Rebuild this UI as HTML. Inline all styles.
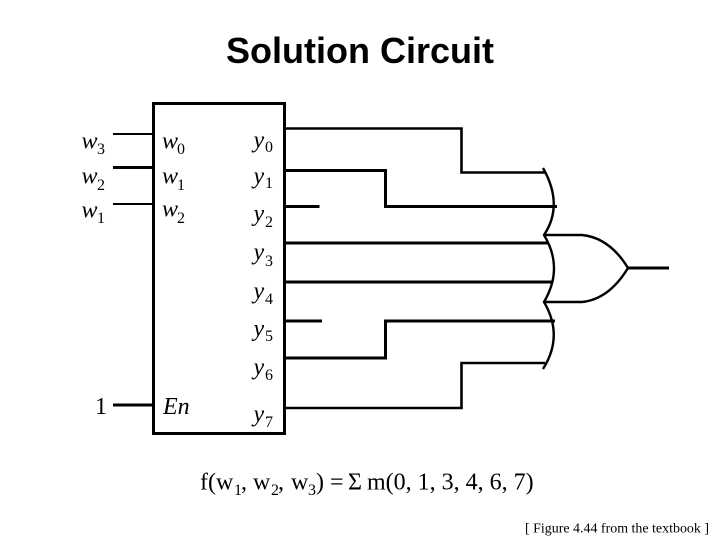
<!DOCTYPE html>
<html><head><meta charset="utf-8">
<style>
html,body{margin:0;padding:0;background:#fff}
svg{display:block}
.s{font-family:"Liberation Serif",serif;fill:#000}
.i{font-style:italic;font-size:24px}
.n{font-size:16px}
.f{font-size:24px}
</style></head>
<body>
<svg width="720" height="540" viewBox="0 0 720 540" xmlns="http://www.w3.org/2000/svg">
<text x="226" y="63" font-family="'Liberation Sans',sans-serif" font-weight="bold" font-size="36" textLength="268" lengthAdjust="spacingAndGlyphs">Solution Circuit</text>

<g fill="none" stroke="#000" stroke-width="3">
<rect x="153.5" y="103.5" width="131" height="330"/>
<path d="M113 134H153" stroke-width="2"/>
<path d="M113 167.5H153"/>
<path d="M113 204H153" stroke-width="2"/>
<path d="M113 405H153"/>
<path d="M284 128.5H461.5V172.5H545" stroke-width="2.6"/>
<path d="M284 170.5H385.5V206.5H557"/>
<path d="M284 206.5H319.5"/>
<path d="M284 243H549"/>
<path d="M284 282H552"/>
<path d="M284 321H322"/>
<path d="M284 358H385.5V321H555"/>
<path d="M284 408H461.5V363H545" stroke-width="2.6"/>
<path d="M543 168Q564 205 544 235Q564 268 544 302Q564 336 543 369" stroke-width="2.4"/>
<path d="M544 235H582C602 237 617 250 628 268C617 286 602 300 582 302H544" stroke-width="2.4"/>
<path d="M628 268H669"/>
</g>

<g class="s">
<text class="i" x="81.5" y="148.5">w</text><text class="n" x="97" y="154">3</text>
<text class="i" x="81.5" y="183.5">w</text><text class="n" x="97" y="190">2</text>
<text class="i" x="81.5" y="217.5">w</text><text class="n" x="97" y="223">1</text>
<text class="i" x="162" y="148.5">w</text><text class="n" x="177" y="154">0</text>
<text class="i" x="162" y="183.5">w</text><text class="n" x="177" y="190">1</text>
<text class="i" x="162" y="216.5">w</text><text class="n" x="177" y="223">2</text>
<text class="i" x="253.5" y="147.5">y</text><text class="n" x="265" y="152">0</text>
<text class="i" x="253.5" y="183.5">y</text><text class="n" x="265" y="188">1</text>
<text class="i" x="253.5" y="221">y</text><text class="n" x="265" y="227">2</text>
<text class="i" x="253.5" y="259.5">y</text><text class="n" x="265" y="266">3</text>
<text class="i" x="253.5" y="298.5">y</text><text class="n" x="265" y="304">4</text>
<text class="i" x="253.5" y="336">y</text><text class="n" x="265" y="341">5</text>
<text class="i" x="253.5" y="374.5">y</text><text class="n" x="265" y="380">6</text>
<text class="i" x="253.5" y="421.5">y</text><text class="n" x="265" y="427">7</text>
<text x="95" y="414" font-size="24">1</text>
<text class="i" x="163" y="414">En</text>

<text class="f" x="200" y="489.5">f(w</text>
<text class="n" x="234" y="495">1</text>
<text class="f" x="241" y="489.5">,</text>
<text class="f" x="253" y="489.5">w</text>
<text class="n" x="271" y="495">2</text>
<text class="f" x="278" y="489.5">,</text>
<text class="f" x="291" y="489.5">w</text>
<text class="n" x="308" y="495">3</text>
<text class="f" x="316" y="489.5">)</text>
<text class="f" x="330" y="489.5">=</text>
<text class="f" x="348" y="489.5">Σ</text>
<text class="f" x="367" y="489.5">m(0, 1, 3, 4, 6, 7)</text>
<text x="525" y="532.5" font-size="14" textLength="184" lengthAdjust="spacingAndGlyphs">[ Figure 4.44 from the textbook ]</text>
</g>
</svg>
</body></html>
